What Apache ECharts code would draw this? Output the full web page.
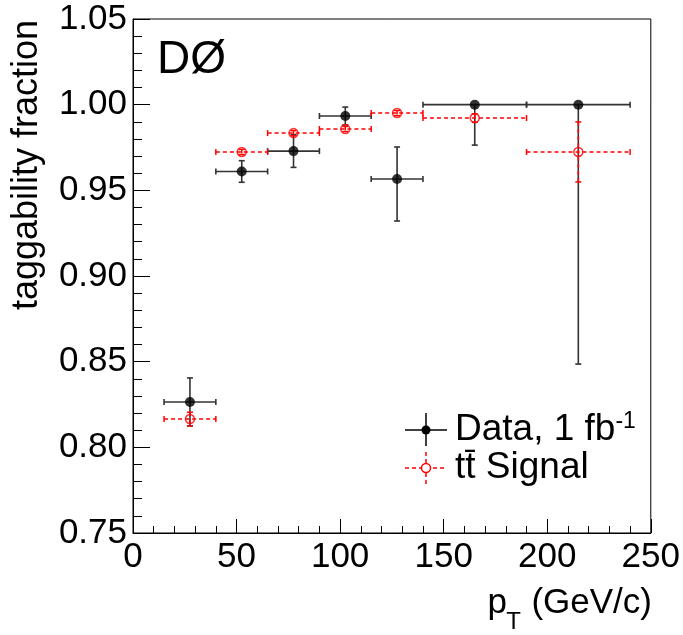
<!DOCTYPE html>
<html>
<head>
<meta charset="utf-8">
<script src="https://cdn.jsdelivr.net/npm/echarts@6/dist/echarts.min.js"></script>
<style>html,body{margin:0;padding:0;background:#fff}#c{width:683px;height:635px}</style>
</head>
<body>
<div id="c"></div>
<script>
// ---- data ----
var binLow  = [15, 40, 65, 90, 115, 140, 190];
var binHigh = [40, 65, 90, 115, 140, 190, 240];
var binCenter = [27.5, 52.5, 77.5, 102.5, 127.5, 165, 215];

var dataY       = [0.8265, 0.9610, 0.9729, 0.9934, 0.9566, 1.000, 1.000];
var dataErrUp   = [0.014, 0.0063, 0.0095, 0.0052, 0.0187, 0.0, 0.0];
var dataErrDown = [0.014, 0.0063, 0.0095, 0.0052, 0.0245, 0.0236, 0.1514];

var sigY       = [0.8165, 0.9724, 0.9834, 0.9858, 0.9951, 0.9922, 0.9724];
var sigErrUp   = [0.004, 0.0015, 0.0015, 0.0015, 0.0015, 0.0025, 0.0175];
var sigErrDown = [0.004, 0.0015, 0.0015, 0.0015, 0.0015, 0.0025, 0.0175];

var xTicks = [0, 50, 100, 150, 200, 250];
var yTicks = [0.75, 0.80, 0.85, 0.90, 0.95, 1.00, 1.05];

var FONT = 'Liberation Sans, Arial, Helvetica, sans-serif';

function rows(y, eu, ed) {
  return binCenter.map(function (xc, i) {
    return [xc, y[i], binLow[i], binHigh[i], eu[i], ed[i]];
  });
}

function makeRender(color, dash, width) {
  return function (params, api) {
    var xc = api.value(0), y = api.value(1), xl = api.value(2), xh = api.value(3);
    var eu = api.value(4), ed = api.value(5);
    var pL = api.coord([xl, y]), pH = api.coord([xh, y]);
    var pU = api.coord([xc, y + eu]), pD = api.coord([xc, y - ed]);
    var st = { stroke: color, lineWidth: width, lineDash: dash };
    var cap = 3;
    var ch = [
      { type: 'line', shape: { x1: pL[0], y1: pL[1], x2: pH[0], y2: pH[1] }, style: st },
      { type: 'line', shape: { x1: pL[0], y1: pL[1] - cap, x2: pL[0], y2: pL[1] + cap }, style: { stroke: color, lineWidth: width } },
      { type: 'line', shape: { x1: pH[0], y1: pH[1] - cap, x2: pH[0], y2: pH[1] + cap }, style: { stroke: color, lineWidth: width } },
      { type: 'line', shape: { x1: pU[0], y1: pU[1], x2: pD[0], y2: pD[1] }, style: st }
    ];
    if (eu > 0) ch.push({ type: 'line', shape: { x1: pU[0] - cap, y1: pU[1], x2: pU[0] + cap, y2: pU[1] }, style: { stroke: color, lineWidth: width } });
    if (ed > 0) ch.push({ type: 'line', shape: { x1: pD[0] - cap, y1: pD[1], x2: pD[0] + cap, y2: pD[1] }, style: { stroke: color, lineWidth: width } });
    return { type: 'group', children: ch };
  };
}

var chart = echarts.init(document.getElementById('c'), null, { renderer: 'canvas' });

var axisCommon = {
  type: 'value',
  axisLine: { show: true, lineStyle: { color: '#000', width: 1 } },
  splitLine: { show: false },
  minorSplitLine: { show: false }
};

var option = {
  backgroundColor: '#fff',
  animation: false,
  grid: { left: 133, right: 32, top: 19, bottom: 102, show: true, borderColor: '#000', borderWidth: 1, backgroundColor: 'transparent' },
  xAxis: Object.assign({}, axisCommon, {
    min: xTicks[0], max: xTicks[xTicks.length - 1], interval: 50,
    axisTick: { show: true, inside: true, length: 14, lineStyle: { color: '#000' } },
    minorTick: { show: true, splitNumber: 5, length: 7, lineStyle: { color: '#000' } },
    axisLabel: { color: '#000', fontSize: 35, fontFamily: FONT, margin: 7 }
  }),
  yAxis: Object.assign({}, axisCommon, {
    min: yTicks[0], max: yTicks[yTicks.length - 1], interval: 0.05,
    axisTick: { show: true, inside: true, length: 17, lineStyle: { color: '#000' } },
    minorTick: { show: true, splitNumber: 5, length: 9, lineStyle: { color: '#000' } },
    axisLabel: { color: '#000', fontSize: 35, fontFamily: FONT, margin: 6,
      formatter: function (v) { return v.toFixed(2); } }
  }),
  series: [
    { type: 'custom', name: 'Data', renderItem: makeRender('#333', null, 1.6), data: rows(dataY, dataErrUp, dataErrDown), z: 2 },
    { type: 'scatter', name: 'DataPts', data: binCenter.map(function (x, i) { return [x, dataY[i]]; }),
      symbol: 'circle', symbolSize: 10, itemStyle: { color: '#000' }, z: 3 },
    { type: 'custom', name: 'Signal', renderItem: makeRender('#ff0000', [4, 3], 1.5), data: rows(sigY, sigErrUp, sigErrDown), z: 4 },
    { type: 'scatter', name: 'SigPts', data: binCenter.map(function (x, i) { return [x, sigY[i]]; }),
      symbol: 'circle', symbolSize: 9, itemStyle: { color: 'rgba(0,0,0,0)', borderColor: '#ff0000', borderWidth: 1.5 }, z: 5 }
  ],
  graphic: [
    { type: 'text', left: 157, top: 37, style: { text: 'DØ', fontSize: 46, fontFamily: FONT, fill: '#000' } },
    { type: 'text', x: 27, y: 165, rotation: Math.PI / 2,
      style: { text: 'taggability fraction', fontSize: 36, fontFamily: FONT, fill: '#000', align: 'center', verticalAlign: 'middle' } },
    // x-axis title: p_T (GeV/c)
    { type: 'text', x: 652, y: 603,
      style: { text: '(GeV/c)', fontSize: 35, fontFamily: FONT, fill: '#000', align: 'right', verticalAlign: 'middle' } },
    { type: 'text', x: 521, y: 622,
      style: { text: 'T', fontSize: 24, fontFamily: FONT, fill: '#000', align: 'right', verticalAlign: 'middle' } },
    { type: 'text', x: 507, y: 603,
      style: { text: 'p', fontSize: 35, fontFamily: FONT, fill: '#000', align: 'right', verticalAlign: 'middle' } },
    // legend: Data
    { type: 'line', shape: { x1: 405, y1: 430, x2: 447, y2: 430 }, style: { stroke: '#000', lineWidth: 1.5 } },
    { type: 'line', shape: { x1: 426, y1: 413, x2: 426, y2: 446 }, style: { stroke: '#000', lineWidth: 1.5 } },
    { type: 'circle', shape: { cx: 426, cy: 430, r: 4.5 }, style: { fill: '#000' } },
    { type: 'text', x: 455, y: 430,
      style: { text: '{a|Data, 1 fb}{u|-1}', verticalAlign: 'middle', fill: '#000',
        rich: { a: { fontSize: 37, fontFamily: FONT, lineHeight: 40 }, u: { fontSize: 23, fontFamily: FONT, lineHeight: 20, verticalAlign: 'top' } } } },
    // legend: Signal
    { type: 'line', shape: { x1: 405, y1: 468, x2: 447, y2: 468 }, style: { stroke: '#ff0000', lineWidth: 1.5, lineDash: [4, 3] } },
    { type: 'line', shape: { x1: 426, y1: 452, x2: 426, y2: 484 }, style: { stroke: '#ff0000', lineWidth: 1.5, lineDash: [4, 3] } },
    { type: 'circle', shape: { cx: 426, cy: 468, r: 4.5 }, style: { fill: '#fff', stroke: '#ff0000', lineWidth: 1.5 } },
    { type: 'text', x: 455, y: 468,
      style: { text: 'tt\u0304 Signal', fontSize: 37, fontFamily: FONT, fill: '#000', verticalAlign: 'middle' } }
  ]
};
chart.setOption(option);
</script>
</body>
</html>
